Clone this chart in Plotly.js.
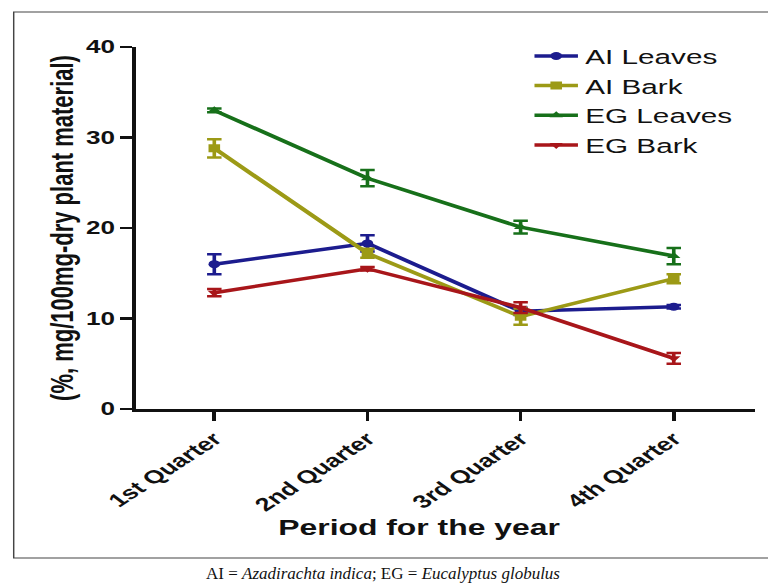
<!DOCTYPE html>
<html>
<head>
<meta charset="utf-8">
<script src="https://cdn.plot.ly/plotly-3.0.1.min.js"></script>
<style>
html,body{margin:0;padding:0;background:#fff;overflow:hidden;width:768px;height:587px;}
#chart{position:absolute;left:0;top:0;width:530px;height:587px;transform:scaleX(1.449);transform-origin:0 0;}
#caption{position:absolute;left:0;top:564px;width:766px;text-align:center;font-family:"Liberation Serif",serif;font-size:17px;color:#111;}
</style>
</head>
<body>
<div id="chart"></div>
<div id="caption">AI = <i>Azadirachta indica</i>; EG = <i>Eucalyptus globulus</i></div>
<script>
const quarters = ["1st Quarter", "2nd Quarter", "3rd Quarter", "4th Quarter"];
const aiLeaves = [16.0, 18.3, 10.8, 11.3];
const aiLeavesErr = [1.1, 0.9, 0.4, 0.2];
const aiBark = [28.8, 17.2, 10.2, 14.4];
const aiBarkErr = [1.0, 0.5, 0.9, 0.5];
const egLeaves = [33.0, 25.5, 20.1, 16.9];
const egLeavesErr = [0.2, 0.9, 0.7, 0.9];
const egBark = [12.85, 15.5, 11.2, 5.6];
const egBarkErr = [0.4, 0.2, 0.6, 0.6];

const seriesNames = ["AI Leaves", "AI Bark", "EG Leaves", "EG Bark"];
const seriesValues = [aiLeaves, aiBark, egLeaves, egBark];
const seriesErrors = [aiLeavesErr, aiBarkErr, egLeavesErr, egBarkErr];
const colors = ["#1c1c8e", "#9c9a16", "#17701a", "#a8161a"];
const symbols = ["circle", "square", "triangle-up", "triangle-down"];
const xTitle = "Period for the year";
const yTitle = "(%, mg/100mg-dry plant material)";

const traces = seriesNames.map((n, i) => ({
  type: "scatter",
  mode: "lines+markers",
  name: n,
  x: quarters,
  y: seriesValues[i],
  line: {color: colors[i], width: 3.5},
  marker: {color: colors[i], symbol: symbols[i], size: 8},
  error_y: {type: "data", array: seriesErrors[i], visible: true, color: colors[i], thickness: 2.5, width: 5}
}));

const font = {family: "Liberation Sans, Arial, Helvetica, sans-serif", color: "#111"};

const layout = {
  width: 530, height: 587,
  margin: {l: 94, r: 9, t: 47, b: 178},
  paper_bgcolor: "#fff", plot_bgcolor: "#fff",
  showlegend: true,
  legend: {
    x: 0.632, y: 1.03, xanchor: "left", yanchor: "top",
    font: Object.assign({}, font, {size: 20.5}),
    bgcolor: "rgba(0,0,0,0)", tracegroupgap: 0
  },
  xaxis: {
    type: "category",
    range: [-0.51, 3.53],
    showline: true, linecolor: "#111", linewidth: 3,
    ticks: "outside", ticklen: 9, tickwidth: 2.5, tickcolor: "#111",
    tickangle: -43,
    tickfont: Object.assign({}, font, {size: 18.5, weight: "bold"}),
    showgrid: false, zeroline: false
  },
  yaxis: {
    range: [0, 40], dtick: 10,
    showline: true, linecolor: "#111", linewidth: 3,
    ticks: "outside", ticklen: 8, tickwidth: 2.5, tickcolor: "#111",
    tickfont: Object.assign({}, font, {size: 18, weight: "bold"}),
    showgrid: false, zeroline: false,
    title: {text: yTitle, font: Object.assign({}, font, {size: 22, weight: "bold"}), standoff: 3}
  },
  annotations: [{
    xref: "paper", yref: "paper", x: 0.459, y: -0.326,
    xanchor: "center", yanchor: "middle", showarrow: false,
    text: xTitle,
    font: Object.assign({}, font, {size: 22, weight: "bold"})
  }],
  shapes: [{
    type: "rect", xref: "paper", yref: "paper",
    x0: -0.198, x1: 1.05, y0: -0.4116, y1: 1.0967,
    line: {color: "#444", width: 1}, layer: "below"
  }]
};

Plotly.newPlot("chart", traces, layout, {displayModeBar: false, staticPlot: true});
</script>
</body>
</html>
